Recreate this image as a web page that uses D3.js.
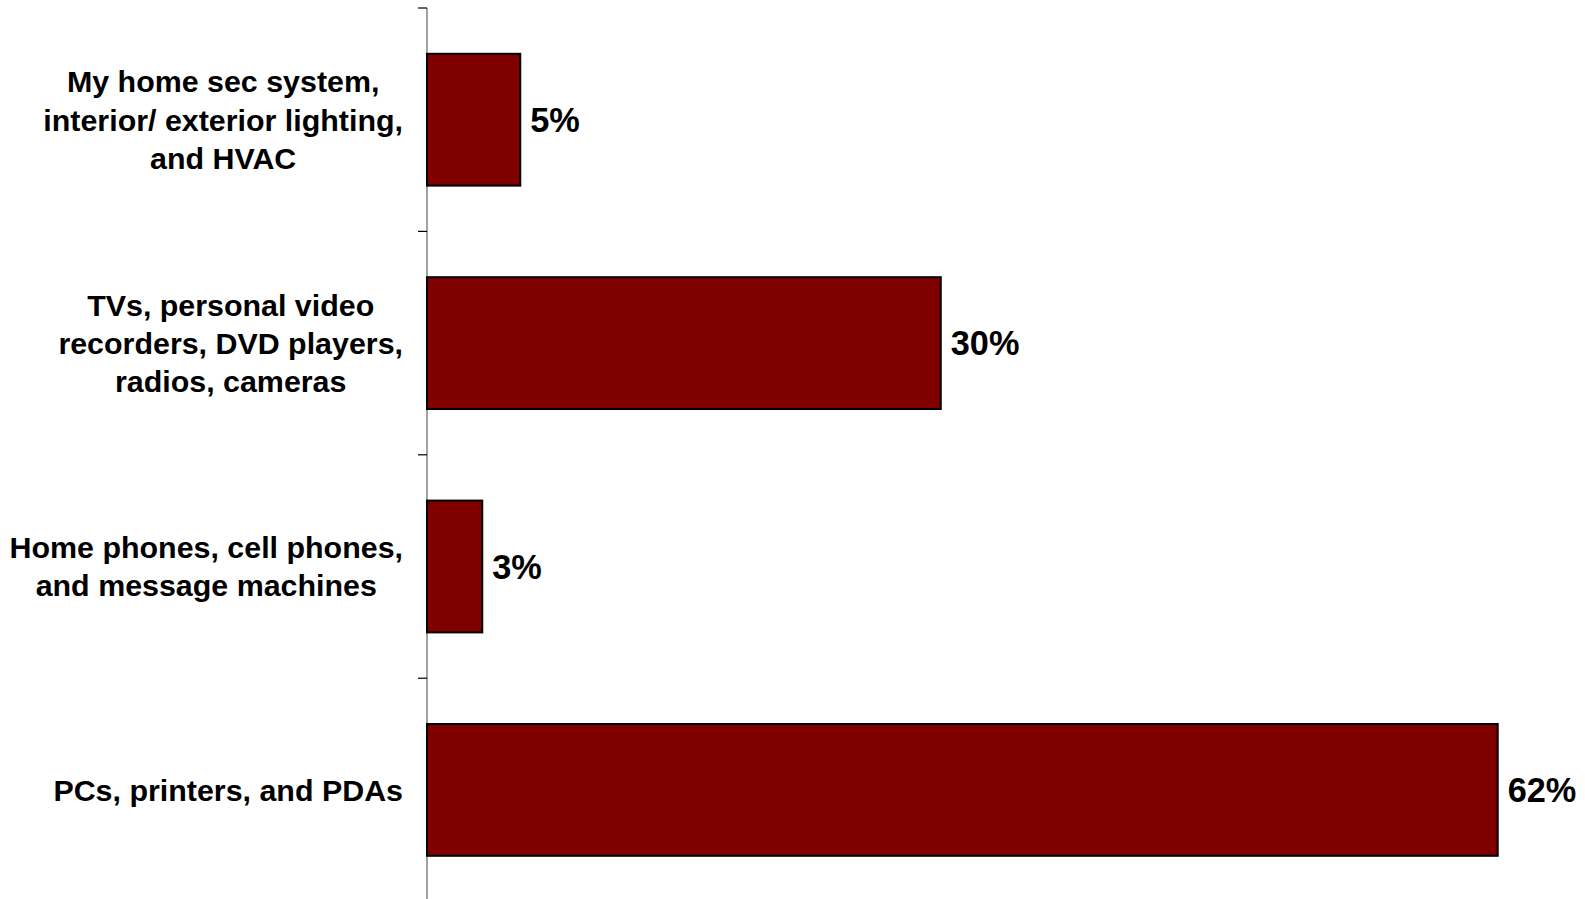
<!DOCTYPE html>
<html>
<head>
<meta charset="utf-8">
<script src="https://cdn.jsdelivr.net/npm/d3@7"></script>
<style>
  html, body { margin: 0; padding: 0; background: #fff; }
  svg { display: block; }
  text { font-family: "Liberation Sans", Arial, sans-serif; font-weight: bold; fill: #000; }
</style>
</head>
<body>
<svg id="chart" width="1585" height="899"></svg>
<script>
const categories = [
  "My home sec system, interior/ exterior lighting, and HVAC",
  "TVs, personal video recorders, DVD players, radios, cameras",
  "Home phones, cell phones, and message machines",
  "PCs, printers, and PDAs"
];
const categoryLines = [
  ["My home sec system,", "interior/ exterior lighting,", "and HVAC"],
  ["TVs, personal video", "recorders, DVD players,", "radios, cameras"],
  ["Home phones, cell phones,", "and message machines"],
  ["PCs, printers, and PDAs"]
];
const values = [5.4, 29.75, 3.2, 62.0];
const valueLabels = ["5%", "30%", "3%", "62%"];

const svg = d3.select("#chart");

const x = d3.scaleLinear().domain([0, 62]).range([427, 1497.7]);
const y = d3.scaleBand().domain(categories).range([8, 901.6]).paddingInner(0.41).paddingOuter(0.205);

// axis line
svg.append("line")
  .attr("x1", x(0)).attr("x2", x(0))
  .attr("y1", y.range()[0]).attr("y2", y.range()[1])
  .attr("stroke", "#666").attr("stroke-width", 1.2);

// ticks at band boundaries
const boundaries = d3.range(categories.length + 1).map(i => y.range()[0] + i * y.step());
svg.selectAll("line.tick").data(boundaries).enter().append("line")
  .attr("class", "tick")
  .attr("x1", x(0) - 9).attr("x2", x(0))
  .attr("y1", d => d).attr("y2", d => d)
  .attr("stroke", "#000").attr("stroke-width", 1.2);

// bars
svg.selectAll("rect.bar").data(categories).enter().append("rect")
  .attr("class", "bar")
  .attr("x", x(0))
  .attr("y", d => y(d))
  .attr("width", (d, i) => x(values[i]) - x(0))
  .attr("height", y.bandwidth())
  .attr("fill", "#800000")
  .attr("stroke", "#000")
  .attr("stroke-width", 2);

// value labels
svg.selectAll("text.val").data(categories).enter().append("text")
  .attr("class", "val")
  .attr("x", (d, i) => x(values[i]) + 10)
  .attr("y", d => y(d) + y.bandwidth() / 2 + 34 * 0.36)
  .attr("font-size", 34.3)
  .text((d, i) => valueLabels[i]);

// category labels (block right-aligned, lines centered)
const rightEdge = 403;
const lineH = 38.3;
categories.forEach((c, i) => {
  const lines = categoryLines[i];
  const g = svg.append("g");
  const cy = y(c) + y.bandwidth() / 2;
  const texts = lines.map((ln, j) => g.append("text")
    .attr("font-size", 30.4)
    .attr("text-anchor", "middle")
    .attr("y", cy + (j - (lines.length - 1) / 2) * lineH + 30 * 0.36)
    .text(ln));
  const maxW = d3.max(texts, t => t.node().getComputedTextLength());
  texts.forEach(t => t.attr("x", rightEdge - maxW / 2));
});
</script>
</body>
</html>
